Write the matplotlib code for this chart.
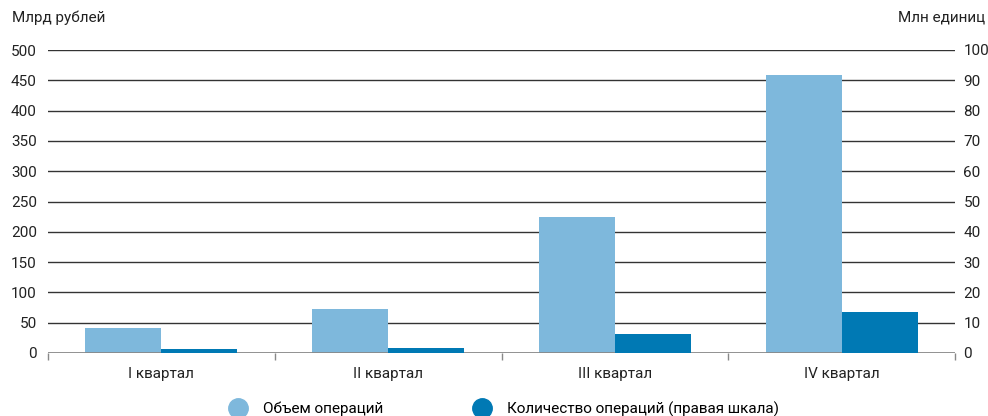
import numpy as np
import matplotlib.pyplot as plt
from matplotlib.lines import Line2D

plt.rcParams['font.family'] = ['Roboto', 'DejaVu Sans']

quarters = ['I квартал', 'II квартал', 'III квартал', 'IV квартал']
volume_bn = [41, 73, 224, 459]        # млрд рублей, левая шкала
count_mn = [1.3, 1.6, 6.3, 13.5]      # млн единиц, правая шкала

left_ticks = np.arange(0, 501, 50)
right_ticks = np.arange(0, 101, 10)

light = '#7eb8dc'
dark = '#0079b4'

fig = plt.figure(figsize=(9.88, 4.16), dpi=100)
ax = fig.add_axes([48 / 988, 63 / 416, 907 / 988, 303 / 416])
ax2 = ax.twinx()

x = np.arange(len(quarters))
w = 76 / 227

ax.bar(x - w / 2, volume_bn, width=w, color=light, zorder=3)
ax2.bar(x + w / 2, count_mn, width=w, color=dark, zorder=3)

ax.set_xlim(-0.5, len(quarters) - 0.5)
ax.set_ylim(0, 500)
ax2.set_ylim(0, 100)
ax.set_yticks(left_ticks)
ax2.set_yticks(right_ticks)

# gridlines drawn on the left axis, the right axis just carries labels
for t in left_ticks[1:]:
    ax.axhline(t, color='#333333', lw=1, zorder=1)
ax.axhline(0, color='#888888', lw=2, zorder=4)

for a in (ax, ax2):
    for s in a.spines.values():
        s.set_visible(False)
    a.tick_params(axis='y', length=0, labelsize=11, colors='#222222', pad=8)
ax2.tick_params(axis='y', pad=6)

ax.set_xticks(x)
ax.set_xticklabels(quarters)
ax.tick_params(axis='x', length=0, labelsize=11, colors='#222222', pad=10)
ax.set_xticks(np.arange(-0.5, len(quarters)), minor=True)
ax.tick_params(axis='x', which='minor', length=5, width=1, color='#888888')

ax2.set_zorder(ax.get_zorder() + 1)
ax.patch.set_visible(False)

fig.text(12 / 988, 1 - 18 / 416, 'Млрд рублей', fontsize=11, color='#222222', va='center', ha='left')
fig.text(985 / 988, 1 - 18 / 416, 'Млн единиц', fontsize=11, color='#222222', va='center', ha='right')

handles = [
    Line2D([], [], marker='o', ls='', markersize=14, color=light),
    Line2D([], [], marker='o', ls='', markersize=14, color=dark),
]
fig.legend(handles, ['Объем операций', 'Количество операций (правая шкала)'],
           loc='center', bbox_to_anchor=(0.507, 0.017), ncol=2, frameon=False,
           fontsize=11, handletextpad=0.6, columnspacing=5.5)

fig.savefig('out.png', dpi=100)
